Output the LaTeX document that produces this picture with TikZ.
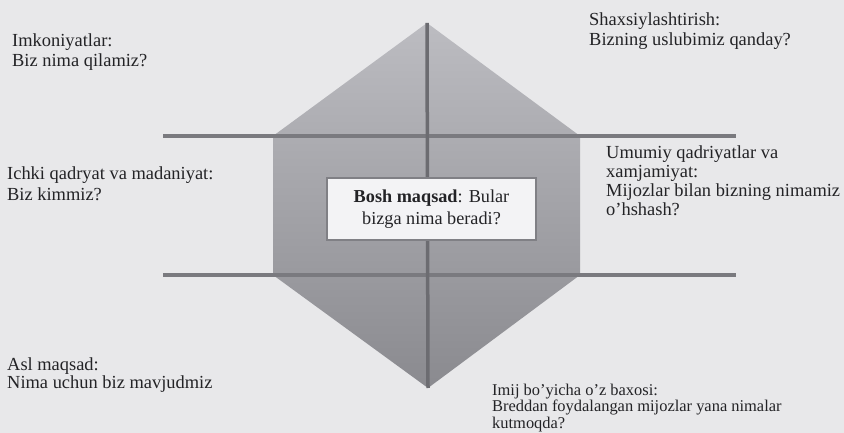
\documentclass[tikz,border=0pt]{standalone}
\usepackage{fontspec}
\setmainfont{Liberation Serif}
\definecolor{bg}{RGB}{232,232,234}
\definecolor{ink}{RGB}{35,35,38}
\definecolor{rulegray}{RGB}{122,122,127}
\definecolor{vgray}{RGB}{108,108,113}
\definecolor{hexlight}{RGB}{188,188,193}
\definecolor{hexdark}{RGB}{138,138,143}
\definecolor{boxfill}{RGB}{243,243,245}
\definecolor{boxgray}{RGB}{128,128,133}
\begin{document}
\begin{tikzpicture}[x=1bp,y=-1bp,
  lbl/.style={anchor=north west,inner sep=0pt,align=left,text=ink,
              font=\fontsize{18.5}{20}\selectfont},
  rulebar/.style={draw=rulegray,line width=4bp},
  axisbar/.style={draw=vgray,line width=3.5bp},
  goalbox/.style={draw=boxgray,line width=1.5bp,fill=boxfill,inner sep=0pt,
              minimum width=209bp,minimum height=62bp,align=center,text=ink,
              font=\fontsize{18.3}{21.7}\selectfont}]
\fill[bg] (0,0) rectangle (844,433);
\useasboundingbox (0,0) rectangle (844,433);
% hexagon (prism)
\coordinate (apex) at (427,23);
\coordinate (ur) at (580,136);
\coordinate (lr) at (580,275);
\coordinate (bot) at (428,388);
\coordinate (ll) at (273,275);
\coordinate (ul) at (273,136);
\shade[top color=hexlight,bottom color=hexdark]
  (apex) -- (ur) -- (lr) -- (bot) -- (ll) -- (ul) -- cycle;
% lines
\coordinate (h1a) at (163,136);
\coordinate (h1b) at (736,136);
\coordinate (h2a) at (163,275);
\coordinate (h2b) at (736,275);
\draw[rulebar] (h1a) -- (h1b);
\draw[rulebar] (h2a) -- (h2b);
\draw[axisbar] (apex) -- (bot);
% central box
\node[goalbox] (goal) at (431.5,209) {\textbf{Bosh maqsad}: Bular\\bizga nima beradi?};
% labels
\node[lbl] (imk) at (12,34) {Imkoniyatlar:\\Biz nima qilamiz?};
\node[lbl,font=\fontsize{18.5}{20.7}\selectfont] (ichki) at (7,166.7) {Ichki qadryat va madaniyat:\\Biz kimmiz?};
\node[lbl,font=\fontsize{18.5}{18}\selectfont] (asl) at (7,358) {Asl maqsad:\\Nima uchun biz mavjudmiz};
\node[lbl] (shax) at (589,12.4) {Shaxsiylashtirish:\\Bizning uslubimiz qanday?};
\node[lbl,font=\fontsize{18.5}{19}\selectfont] (umum) at (606,145.7) {Umumiy qadriyatlar va\\xamjamiyat:\\Mijozlar bilan bizning nimamiz\\o’hshash?};
\node[lbl,font=\fontsize{16.5}{16.5}\selectfont] (imij) at (492,383.7) {Imij bo’yicha o’z baxosi:\\Breddan foydalangan mijozlar yana nimalar\\kutmoqda?};
\end{tikzpicture}
\end{document}
